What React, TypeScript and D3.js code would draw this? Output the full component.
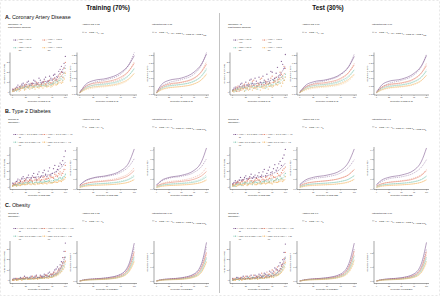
import React from 'react';
import * as d3 from 'd3';

const FONT = '"Liberation Sans", Arial, Helvetica, sans-serif';

// ---------- shared axes / categories ----------
const KNOTS = [0, 10, 25, 50, 75, 90, 100];
const PCT = [0, 5, 10, 15, 20, 25, 30, 35, 40, 45, 50, 55, 60, 65, 70, 75, 80, 85, 90, 95, 100];
const PCT2 = [2.5, 7.5, 12.5, 17.5, 22.5, 27.5, 32.5, 37.5, 42.5, 47.5, 52.5, 57.5, 62.5, 67.5, 72.5, 77.5, 82.5, 87.5, 92.5, 97.5];
const X_TICKS = [0, 25, 50, 75, 100];
const COLORS = ['#6b3e7e', '#e3775c', '#7fc6b2', '#f3b766'];

const SPLITS = ['Training (70%)', 'Test (30%)'];
const SECTION_TITLES = ['A. Coronary Artery Disease', 'B. Type 2 Diabetes', 'C. Obesity'];
const DISEASES = ['CAD', 'T2D', 'Obesity'];
const PGS_LABELS = ['Percentile of PGS-CAD', 'Percentile of PGS-T2D', 'Percentile of PGS-BMI'];
const LEGEND_TITLES = [
  ['Omega6FA &', 'Past tobacco smoking'],
  ['Glucose &', 'Omega6FA'],
  ['Glucose &', 'Omega6FA'],
];
const LEGEND_LABELS = [
  [['LOW <4.57 &', 'Yes'], ['HIGH >=4.57 &', 'Yes'], ['LOW <4.57 &', 'No'], ['HIGH >=4.57 &', 'No']],
  [['HIGH >=5.6 & LOW <4.5', '11'], ['HIGH >=5.6 & HIGH >=4.5', '10'], ['LOW <5.6 & LOW <4.5', '01'], ['LOW <5.6 & HIGH >=4.5', '00']],
  [['HIGH >=5.6 & LOW <4.36', '11'], ['HIGH >=5.6 & HIGH >=4.36', '10'], ['LOW <5.6 & LOW <4.36', '01'], ['LOW <5.6 & HIGH >=4.36', '00']],
];
const ADD_R2 = [['0.73', '0.66'], ['0.85', '0.79'], ['0.72', '0.6']];
const INT_R2 = [['0.78', '0.67'], ['0.91', '0.8'], ['0.76', '0.66']];
const SCATTER_TICKS = [[0, 10, 20, 30], [0, 10, 20, 30, 40], [0, 10, 20, 30]];
const SCATTER_DOMAIN = [[-3, 40], [-3, 50], [-3, 38]];
const MODEL_TICKS = [[0, 0.05, 0.1, 0.15, 0.2, 0.25], [0, 0.1, 0.2, 0.3, 0.4], [0, 0.1, 0.2]];
const MODEL_DOMAIN = [[-0.005, 0.27], [-0.005, 0.43], [-0.015, 0.285]];
const MODEL_FMT = ['.2f', '.1f', '.1f'];

// ---------- CAD ----------
const cadTrainObs = [
  [0.02, 0.05, 0.075, 0.095, 0.13, 0.19, 0.27],
  [0.015, 0.04, 0.06, 0.075, 0.1, 0.15, 0.21],
  [0.012, 0.033, 0.05, 0.062, 0.082, 0.12, 0.17],
  [0.01, 0.027, 0.04, 0.05, 0.066, 0.095, 0.135],
];
const cadTrainAdd = [
  [0.008, 0.06, 0.088, 0.103, 0.14, 0.19, 0.25],
  [0.008, 0.048, 0.07, 0.082, 0.11, 0.15, 0.2],
  [0.008, 0.04, 0.058, 0.068, 0.09, 0.123, 0.165],
  [0.008, 0.032, 0.047, 0.055, 0.073, 0.1, 0.135],
];
const cadTrainInt = [
  [0.008, 0.062, 0.09, 0.105, 0.143, 0.195, 0.26],
  [0.008, 0.046, 0.066, 0.078, 0.105, 0.145, 0.195],
  [0.008, 0.038, 0.055, 0.064, 0.085, 0.117, 0.16],
  [0.008, 0.03, 0.043, 0.05, 0.067, 0.093, 0.128],
];
const cadTrainPts = [
  [3, 2, 7, 4, 9, 6, 11, 7, 12, 8, 14, 9, 13, 10, 16, 12, 18, 15, 23, 20, 36],
  [2, 4, 3, 6, 5, 8, 5, 9, 6, 10, 7, 8, 11, 7, 12, 9, 14, 11, 18, 15, 30],
  [1, 3, 2, 5, 4, 6, 4, 7, 5, 8, 6, 7, 9, 6, 10, 8, 12, 9, 14, 12, 24],
  [0.5, 2, 3, 2, 5, 3, 6, 4, 5, 7, 4, 6, 7, 5, 8, 6, 9, 8, 12, 10, 19],
];
const cadTrainPts2 = [
  [1, 5, 3, 8, 5, 10, 7, 9, 11, 8, 12, 10, 15, 11, 14, 17, 13, 21, 26, 29],
  [3, 2, 5, 4, 7, 5, 6, 8, 7, 9, 6, 10, 8, 11, 9, 13, 12, 16, 20, 24],
  [2, 1, 3, 6, 3, 5, 7, 4, 6, 5, 8, 7, 6, 9, 7, 10, 11, 12, 16, 19],
  [1, 3, 1, 4, 2, 5, 3, 6, 3, 5, 6, 4, 7, 6, 5, 8, 7, 10, 9, 14],
];
const cadTestObs = [
  [0.02, 0.045, 0.07, 0.09, 0.125, 0.18, 0.26],
  [0.015, 0.04, 0.058, 0.07, 0.095, 0.14, 0.2],
  [0.01, 0.03, 0.047, 0.058, 0.078, 0.11, 0.16],
  [0.01, 0.025, 0.038, 0.047, 0.062, 0.088, 0.125],
];
const cadTestAdd = [
  [0.01, 0.055, 0.08, 0.095, 0.13, 0.18, 0.245],
  [0.01, 0.045, 0.065, 0.077, 0.103, 0.142, 0.19],
  [0.01, 0.038, 0.055, 0.065, 0.086, 0.118, 0.158],
  [0.01, 0.031, 0.045, 0.053, 0.07, 0.097, 0.13],
];
const cadTestInt = [
  [0.01, 0.058, 0.084, 0.098, 0.135, 0.185, 0.25],
  [0.01, 0.044, 0.063, 0.074, 0.1, 0.138, 0.185],
  [0.01, 0.036, 0.052, 0.061, 0.082, 0.112, 0.15],
  [0.01, 0.029, 0.042, 0.05, 0.066, 0.09, 0.122],
];
const cadTestPts = [
  [2, 5, 3, 8, 4, 10, 6, 13, 7, 11, 15, 8, 12, 18, 10, 20, 14, 25, 17, 28, 38],
  [1, 3, 6, 2, 7, 4, 9, 5, 12, 6, 8, 14, 7, 10, 9, 16, 12, 10, 20, 14, 24],
  [2, 1, 4, 3, 6, 2, 7, 9, 4, 5, 8, 6, 10, 5, 9, 7, 11, 13, 9, 16, 18],
  [1, 2, 1, 4, 3, 5, 2, 6, 4, 3, 7, 5, 4, 8, 6, 5, 10, 7, 13, 9, 15],
];
const cadTestPts2 = [
  [4, 1, 6, 9, 5, 7, 12, 9, 14, 6, 10, 16, 9, 13, 21, 12, 19, 15, 31, 24],
  [2, 5, 1, 4, 8, 3, 6, 11, 4, 9, 13, 6, 11, 8, 14, 10, 15, 13, 18, 26],
  [1, 3, 2, 5, 1, 4, 3, 6, 8, 3, 5, 9, 4, 8, 6, 12, 8, 10, 15, 12],
  [0, 1, 3, 2, 1, 4, 3, 2, 5, 6, 2, 4, 6, 3, 7, 6, 8, 11, 6, 12],
];

// ---------- T2D ----------
const t2dTrainObs = [
  [0.04, 0.08, 0.11, 0.13, 0.17, 0.23, 0.31],
  [0.03, 0.055, 0.075, 0.09, 0.12, 0.16, 0.22],
  [0.02, 0.04, 0.052, 0.062, 0.08, 0.105, 0.145],
  [0.015, 0.028, 0.036, 0.043, 0.055, 0.072, 0.1],
];
const t2dTrainAdd = [
  [0.04, 0.085, 0.115, 0.138, 0.187, 0.27, 0.41],
  [0.03, 0.055, 0.07, 0.082, 0.105, 0.14, 0.19],
  [0.02, 0.04, 0.05, 0.058, 0.073, 0.097, 0.13],
  [0.015, 0.03, 0.037, 0.043, 0.054, 0.07, 0.095],
];
const t2dTrainInt = [
  [0.04, 0.088, 0.118, 0.14, 0.19, 0.28, 0.42],
  [0.03, 0.05, 0.065, 0.078, 0.1, 0.135, 0.18],
  [0.02, 0.038, 0.048, 0.056, 0.07, 0.093, 0.125],
  [0.015, 0.028, 0.035, 0.041, 0.051, 0.067, 0.09],
];
const t2dTrainPts = [
  [5, 3, 10, 7, 13, 9, 15, 11, 17, 10, 19, 14, 21, 13, 24, 17, 27, 22, 30, 33, 45],
  [2, 5, 4, 8, 6, 10, 7, 9, 12, 8, 11, 9, 13, 10, 14, 12, 16, 13, 19, 17, 27],
  [1, 3, 2, 5, 4, 6, 5, 7, 4, 8, 6, 5, 8, 7, 9, 6, 10, 9, 12, 11, 16],
  [1, 2, 3, 2, 4, 3, 5, 3, 4, 6, 4, 5, 6, 4, 7, 5, 7, 6, 8, 9, 12],
];
const t2dTrainPts2 = [
  [3, 7, 5, 11, 8, 12, 9, 14, 12, 16, 12, 18, 16, 20, 15, 23, 19, 26, 28, 38],
  [4, 3, 6, 5, 8, 6, 9, 7, 10, 9, 8, 12, 10, 11, 13, 11, 15, 17, 15, 22],
  [2, 2, 4, 3, 5, 4, 6, 5, 6, 5, 7, 6, 7, 8, 6, 8, 9, 11, 10, 13],
  [2, 1, 2, 3, 3, 4, 4, 5, 3, 4, 5, 4, 5, 6, 5, 6, 6, 8, 7, 10],
];
const t2dTestObs = [
  [0.04, 0.075, 0.105, 0.125, 0.165, 0.225, 0.3],
  [0.03, 0.052, 0.07, 0.085, 0.113, 0.15, 0.2],
  [0.02, 0.038, 0.05, 0.06, 0.078, 0.1, 0.135],
  [0.015, 0.027, 0.035, 0.042, 0.053, 0.07, 0.095],
];
const t2dTestAdd = [
  [0.045, 0.09, 0.12, 0.142, 0.19, 0.28, 0.41],
  [0.03, 0.057, 0.072, 0.085, 0.11, 0.147, 0.2],
  [0.022, 0.042, 0.053, 0.061, 0.077, 0.102, 0.138],
  [0.016, 0.031, 0.039, 0.045, 0.057, 0.074, 0.1],
];
const t2dTestInt = [
  [0.045, 0.09, 0.12, 0.143, 0.193, 0.285, 0.42],
  [0.03, 0.053, 0.068, 0.08, 0.104, 0.14, 0.188],
  [0.021, 0.04, 0.05, 0.058, 0.073, 0.097, 0.13],
  [0.016, 0.03, 0.037, 0.043, 0.054, 0.07, 0.094],
];
const t2dTestPts = [
  [4, 8, 6, 12, 9, 14, 10, 16, 13, 11, 18, 15, 22, 17, 25, 19, 28, 24, 32, 36, 47],
  [3, 4, 7, 5, 9, 6, 10, 8, 7, 11, 9, 12, 8, 13, 11, 15, 12, 17, 14, 21, 25],
  [2, 1, 4, 3, 5, 6, 4, 7, 5, 6, 8, 5, 7, 9, 6, 10, 8, 11, 13, 10, 17],
  [1, 3, 2, 4, 2, 5, 3, 4, 6, 3, 5, 4, 6, 5, 7, 4, 8, 6, 9, 7, 13],
];
const t2dTestPts2 = [
  [6, 5, 9, 8, 12, 10, 13, 11, 15, 14, 13, 19, 14, 21, 18, 23, 21, 29, 27, 40],
  [2, 6, 5, 7, 4, 8, 11, 6, 9, 10, 7, 10, 12, 9, 14, 13, 10, 15, 18, 23],
  [1, 3, 3, 2, 6, 4, 5, 3, 7, 5, 4, 7, 8, 6, 9, 7, 10, 9, 11, 15],
  [2, 1, 3, 3, 4, 2, 5, 5, 3, 4, 6, 5, 4, 6, 5, 7, 6, 7, 10, 9],
];

// ---------- Obesity ----------
const obTrainObs = [
  [0.005, 0.013, 0.018, 0.026, 0.048, 0.11, 0.24],
  [0.004, 0.011, 0.015, 0.021, 0.04, 0.09, 0.195],
  [0.004, 0.01, 0.013, 0.018, 0.034, 0.075, 0.16],
  [0.003, 0.009, 0.012, 0.016, 0.03, 0.065, 0.135],
];
const obTrainAdd = [
  [0.002, 0.012, 0.017, 0.025, 0.05, 0.12, 0.27],
  [0.002, 0.01, 0.014, 0.02, 0.04, 0.095, 0.21],
  [0.002, 0.009, 0.012, 0.017, 0.034, 0.08, 0.175],
  [0.002, 0.008, 0.011, 0.015, 0.03, 0.068, 0.145],
];
const obTrainInt = [
  [0.002, 0.012, 0.017, 0.025, 0.052, 0.125, 0.275],
  [0.002, 0.01, 0.014, 0.02, 0.041, 0.097, 0.205],
  [0.002, 0.009, 0.012, 0.017, 0.034, 0.078, 0.17],
  [0.002, 0.008, 0.011, 0.014, 0.029, 0.065, 0.14],
];
const obTrainPts = [
  [1, 2, 1, 3, 2, 3, 2, 4, 3, 5, 3, 4, 6, 5, 8, 6, 10, 13, 15, 22, 36],
  [1, 1, 2, 1, 3, 2, 2, 3, 2, 4, 3, 3, 4, 5, 4, 6, 8, 9, 12, 17, 28],
  [0, 1, 1, 2, 1, 2, 2, 1, 3, 2, 3, 2, 4, 3, 5, 4, 6, 7, 10, 14, 22],
  [0, 1, 0, 1, 1, 2, 1, 2, 1, 2, 2, 3, 2, 3, 4, 3, 5, 6, 8, 11, 18],
];
const obTrainPts2 = [
  [2, 1, 2, 2, 4, 3, 3, 2, 4, 3, 5, 4, 5, 7, 6, 8, 11, 11, 18, 28],
  [0, 2, 1, 2, 2, 3, 2, 4, 3, 2, 4, 3, 5, 4, 6, 7, 7, 10, 14, 22],
  [1, 0, 2, 1, 1, 2, 3, 2, 2, 3, 2, 3, 3, 4, 3, 5, 6, 8, 12, 17],
  [1, 0, 1, 0, 2, 1, 1, 2, 2, 1, 3, 2, 3, 2, 3, 4, 5, 7, 9, 14],
];
const obTestObs = [
  [0.005, 0.012, 0.017, 0.025, 0.046, 0.105, 0.23],
  [0.004, 0.011, 0.015, 0.021, 0.04, 0.088, 0.19],
  [0.004, 0.01, 0.013, 0.018, 0.033, 0.073, 0.155],
  [0.003, 0.009, 0.012, 0.016, 0.029, 0.062, 0.13],
];
const obTestAdd = [
  [0.002, 0.012, 0.018, 0.026, 0.052, 0.125, 0.27],
  [0.002, 0.01, 0.015, 0.021, 0.042, 0.1, 0.215],
  [0.002, 0.009, 0.013, 0.018, 0.036, 0.083, 0.18],
  [0.002, 0.008, 0.011, 0.015, 0.031, 0.07, 0.15],
];
const obTestInt = [
  [0.002, 0.012, 0.018, 0.026, 0.053, 0.128, 0.275],
  [0.002, 0.01, 0.014, 0.02, 0.041, 0.098, 0.21],
  [0.002, 0.009, 0.012, 0.017, 0.034, 0.08, 0.172],
  [0.002, 0.008, 0.011, 0.015, 0.029, 0.066, 0.142],
];
const obTestPts = [
  [2, 1, 3, 2, 4, 2, 3, 5, 3, 4, 6, 4, 7, 5, 9, 7, 12, 10, 17, 20, 35],
  [1, 2, 1, 3, 2, 4, 2, 3, 5, 3, 4, 7, 5, 8, 6, 10, 8, 13, 11, 16, 27],
  [0, 1, 2, 1, 2, 1, 3, 2, 3, 2, 4, 3, 5, 3, 4, 6, 5, 8, 9, 13, 21],
  [1, 0, 1, 1, 2, 1, 2, 1, 2, 3, 2, 3, 2, 4, 3, 4, 6, 5, 7, 10, 17],
];
const obTestPts2 = [
  [1, 3, 2, 3, 1, 4, 2, 3, 5, 3, 5, 4, 6, 5, 8, 9, 11, 14, 15, 27],
  [2, 1, 2, 1, 3, 2, 4, 2, 3, 4, 3, 5, 4, 6, 5, 7, 10, 9, 14, 21],
  [1, 2, 0, 2, 1, 3, 1, 3, 2, 3, 2, 4, 3, 5, 4, 5, 7, 6, 11, 16],
  [0, 1, 1, 0, 1, 2, 1, 2, 2, 1, 3, 2, 3, 3, 4, 3, 5, 6, 8, 13],
];

const OBS = [[cadTrainObs, cadTestObs], [t2dTrainObs, t2dTestObs], [obTrainObs, obTestObs]];
const ADD = [[cadTrainAdd, cadTestAdd], [t2dTrainAdd, t2dTestAdd], [obTrainAdd, obTestAdd]];
const INT = [[cadTrainInt, cadTestInt], [t2dTrainInt, t2dTestInt], [obTrainInt, obTestInt]];
const PTS = [[cadTrainPts, cadTestPts], [t2dTrainPts, t2dTestPts], [obTrainPts, obTestPts]];
const PTS2 = [[cadTrainPts2, cadTestPts2], [t2dTrainPts2, t2dTestPts2], [obTrainPts2, obTestPts2]];

// ---------- layout ----------
const W = 440;
const H = 296;
const SEC_Y = [0, 94.5, 188.5];
const HALF_X = [0, 220];
const PANEL_X = [[10, 68], [77, 137], [154, 209]];
const PLOT_TOP = 52.5;
const PLOT_BOT = 95;
const AXIS = '#222';

type AxesProps = {
  x0: number; x1: number; yT: number; yB: number;
  xs: d3.ScaleLinear<number, number>; ys: d3.ScaleLinear<number, number>;
  yTicks: number[]; yFmt: (v: number) => string; ylab: string; xlab: string; ylabOff: number;
};

function Axes({ x0, x1, yT, yB, xs, ys, yTicks, yFmt, ylab, xlab, ylabOff }: AxesProps) {
  return (
    <g>
      <line x1={x0} x2={x0} y1={yT} y2={yB} stroke={AXIS} strokeWidth={0.4} />
      <line x1={x0} x2={x1} y1={yB} y2={yB} stroke={AXIS} strokeWidth={0.4} />
      {yTicks.map((t) => (
        <g key={'y' + t}>
          <line x1={x0 - 0.8} x2={x0} y1={ys(t)} y2={ys(t)} stroke={AXIS} strokeWidth={0.3} />
          <text x={x0 - 1.2} y={ys(t) + 0.6} fontSize={1.9} textAnchor="end" fill="#444">{yFmt(t)}</text>
        </g>
      ))}
      {X_TICKS.map((t) => (
        <g key={'x' + t}>
          <line x1={xs(t)} x2={xs(t)} y1={yB} y2={yB + 0.8} stroke={AXIS} strokeWidth={0.3} />
          <text x={xs(t)} y={yB + 3} fontSize={1.9} textAnchor="middle" fill="#444">{t}</text>
        </g>
      ))}
      <text x={(x0 + x1) / 2} y={yB + 6.6} fontSize={2.2} textAnchor="middle" fill="#222">{xlab}</text>
      <text
        transform={`translate(${x0 - ylabOff},${(yT + yB) / 2}) rotate(-90)`}
        fontSize={2.1} textAnchor="middle" fill="#222"
      >{ylab}</text>
    </g>
  );
}

function Section({ s, h }: { s: number; h: number }) {
  const oy = SEC_Y[s];
  const ox = HALF_X[h];
  const yT = oy + PLOT_TOP;
  const yB = oy + PLOT_BOT;
  const knotPairs = (vals: number[], k: number) => vals.map((v, i) => [KNOTS[i], v * k] as [number, number]);

  // Panel 1: scatter
  const [p1a, p1b] = PANEL_X[0];
  const xs1 = d3.scaleLinear().domain([-5, 105]).range([ox + p1a, ox + p1b]);
  const ys1 = d3.scaleLinear().domain(SCATTER_DOMAIN[s]).range([yB, yT]);
  const line1 = d3.line<[number, number]>().x((d) => xs1(d[0])).y((d) => ys1(d[1])).curve(d3.curveMonotoneX);

  const modelPanel = (pi: number, curves: number[][], title: string, formula: React.ReactNode, textX: number) => {
    const [a, b] = PANEL_X[pi];
    const xs = d3.scaleLinear().domain([-5, 105]).range([ox + a, ox + b]);
    const ys = d3.scaleLinear().domain(MODEL_DOMAIN[s]).range([yB, yT]);
    const ln = d3.line<[number, number]>().x((d) => xs(d[0])).y((d) => ys(d[1])).curve(d3.curveMonotoneX);
    const fmt = d3.format(MODEL_FMT[s]);
    return (
      <g key={'m' + pi}>
        <text x={ox + textX} y={oy + 25} fontSize={2.3} fill="#222">{title}</text>
        <g transform={`translate(${ox + textX},${oy + 33})`}>
          <line x1={0} x2={2.4} y1={-0.7} y2={-0.7} stroke="#555" strokeWidth={0.35} />
          <text x={3.2} y={0} fontSize={2.3} fill="#222">{formula}</text>
        </g>
        <Axes x0={ox + a} x1={ox + b} yT={yT} yB={yB} xs={xs} ys={ys}
          yTicks={MODEL_TICKS[s]} yFmt={(v) => fmt(v)} ylab={`Incidence of ${DISEASES[s]}`}
          xlab={PGS_LABELS[s]} ylabOff={6.5} />
        {OBS[s][h].map((g, gi) => (
          <path key={'o' + gi} d={ln(knotPairs(g, 1)) || ''} fill="none" stroke={COLORS[gi]}
            strokeWidth={0.45} strokeDasharray="1.3,0.9" opacity={0.85} />
        ))}
        {curves.map((g, gi) => (
          <path key={'c' + gi} d={ln(knotPairs(g, 1)) || ''} fill="none" stroke={COLORS[gi]} strokeWidth={0.5} />
        ))}
      </g>
    );
  };

  const sub = (t: string) => <tspan fontSize={1.6} dy={0.5}>{t}</tspan>;
  const up = <tspan dy={-0.5}></tspan>;

  const addFormula = (
    <>μ ~ PGS + z{sub('1')}{up} + z{sub('2')}{up}</>
  );
  const intFormula = (
    <>μ ~ PGS + z{sub('1')}{up} + z{sub('2')}{up} + PGS·z{sub('1')}{up} + PGS·z{sub('2')}{up} + PGS·z{sub('1')}{up}z{sub('2')}{up}</>
  );

  const legendPos = [[3, 40], [32, 40], [3, 47.7], [32, 47.7]];

  return (
    <g>
      {h === 0 && (
        <text x={5} y={oy + 18.7} fontSize={5.4} fill="#111">
          <tspan fontWeight="bold">{SECTION_TITLES[s].slice(0, 2)}</tspan>
          {SECTION_TITLES[s].slice(2)}
        </text>
      )}
      {/* legend */}
      <text x={ox + 8} y={oy + 25} fontSize={2.3} fill="#222">{LEGEND_TITLES[s][0]}</text>
      <text x={ox + 8} y={oy + 28} fontSize={2.3} fill="#222">{LEGEND_TITLES[s][1]}</text>
      {LEGEND_LABELS[s].map((lab, gi) => {
        const lx = ox + p1a + legendPos[gi][0];
        const ly = oy + legendPos[gi][1];
        return (
          <g key={'lg' + gi}>
            <line x1={lx} x2={lx + 4.5} y1={ly} y2={ly} stroke={COLORS[gi]} strokeWidth={0.5} strokeDasharray="1.2,0.7" />
            <circle cx={lx + 2.25} cy={ly} r={0.6} fill={COLORS[gi]} />
            <text x={lx + 5.8} y={ly + 0.3} fontSize={2.1} fill="#333">{lab[0]}</text>
            <text x={lx + 5.8} y={ly + 3.3} fontSize={2.1} fill="#333">{lab[1]}</text>
          </g>
        );
      })}
      <Axes x0={ox + p1a} x1={ox + p1b} yT={yT} yB={yB} xs={xs1} ys={ys1}
        yTicks={SCATTER_TICKS[s]} yFmt={(v) => String(v)} ylab={`Incidence of ${DISEASES[s]}(%)`}
        xlab={PGS_LABELS[s]} ylabOff={5} />
      {PTS[s][h].map((g, gi) => (
        <g key={'p' + gi}>
          {g.map((v, i) => (
            <circle key={i} cx={xs1(PCT[i])} cy={ys1(v)} r={0.65} fill={COLORS[gi]} opacity={0.8} />
          ))}
        </g>
      ))}
      {PTS2[s][h].map((g, gi) => (
        <g key={'q' + gi}>
          {g.map((v, i) => (
            <circle key={i} cx={xs1(PCT2[i])} cy={ys1(v)} r={0.65} fill={COLORS[gi]} opacity={0.8} />
          ))}
        </g>
      ))}
      {OBS[s][h].map((g, gi) => (
        <path key={'f' + gi} d={line1(knotPairs(g, 100)) || ''} fill="none" stroke={COLORS[gi]}
          strokeWidth={0.55} strokeDasharray="1.5,0.9" />
      ))}
      {modelPanel(1, ADD[s][h], `Additive R2: ${ADD_R2[s][h]}`, addFormula, 82)}
      {modelPanel(2, INT[s][h], `Interaction R2: ${INT_R2[s][h]}`, intFormula, 152)}
    </g>
  );
}

export default function App() {
  return (
    <svg width={W} height={H} viewBox={`0 0 ${W} ${H}`}
      style={{ position: 'fixed', left: 0, top: 0, background: '#fff', fontFamily: FONT }}>
      <rect x={0} y={0} width={W} height={H} fill="#fff" />
      <rect x={0.5} y={0.5} width={W - 1} height={H - 1} fill="none" stroke="#d8d8d8" strokeWidth={0.6} strokeDasharray="2,2" />
      <text x={108} y={10} fontSize={6.4} fontWeight="bold" textAnchor="middle" fill="#111">{SPLITS[0]}</text>
      <text x={328} y={10} fontSize={6.4} fontWeight="bold" textAnchor="middle" fill="#111">{SPLITS[1]}</text>
      <line x1={219.5} x2={219.5} y1={13} y2={293} stroke="#9a9a9a" strokeWidth={0.6} />
      {[0, 1, 2].map((s) => (
        <g key={s}>
          <Section s={s} h={0} />
          <Section s={s} h={1} />
        </g>
      ))}
    </svg>
  );
}
